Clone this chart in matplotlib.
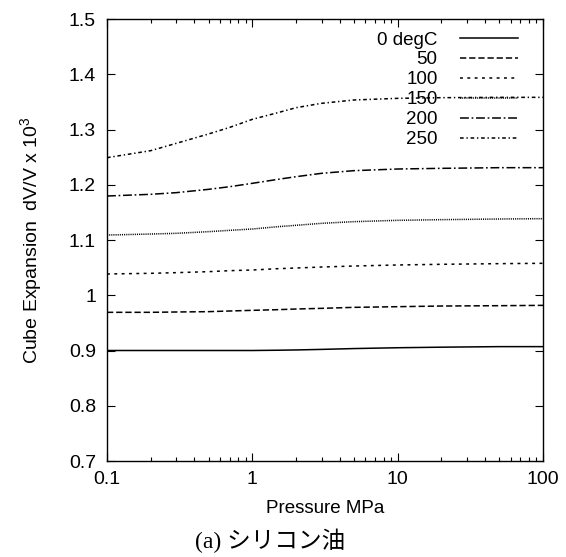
import numpy as np
import matplotlib
matplotlib.use('Agg')
import matplotlib.pyplot as plt
from matplotlib.ticker import FuncFormatter, FixedLocator, LogLocator, NullFormatter

plt.rcParams['font.family'] = ['Liberation Sans', 'DejaVu Sans']
plt.rcParams['mathtext.fontset'] = 'custom'
plt.rcParams['mathtext.rm'] = 'Liberation Sans'
plt.rcParams['mathtext.default'] = 'rm'

# pressure (MPa) and cube expansion dV/V x 10^3
pressure = [0.1, 0.2, 0.3, 0.5, 0.7, 1, 1.5, 2, 3, 5, 10, 20, 50, 100]
exp_0 = [0.900, 0.900, 0.900, 0.900, 0.900, 0.900, 0.9005, 0.901, 0.902, 0.9035, 0.905, 0.906, 0.907, 0.907]
exp_50 = [0.9691, 0.9691, 0.9697, 0.9703, 0.9715, 0.9727, 0.9739, 0.9751, 0.9763, 0.9781, 0.9793, 0.9805, 0.9811, 0.9817]
exp_100 = [1.0385, 1.0397, 1.0409, 1.0427, 1.0445, 1.0457, 1.0481, 1.0493, 1.0511, 1.0529, 1.0548, 1.0560, 1.0572, 1.0578]
exp_150 = [1.1090, 1.1108, 1.1121, 1.1151, 1.1175, 1.1199, 1.1241, 1.1266, 1.1302, 1.1332, 1.1356, 1.1368, 1.1380, 1.1386]
exp_200 = [1.1796, 1.1827, 1.1857, 1.1917, 1.1965, 1.2026, 1.2098, 1.2146, 1.2207, 1.2255, 1.2285, 1.2297, 1.2309, 1.2309]
exp_250 = [1.2490, 1.2617, 1.2750, 1.2919, 1.3039, 1.3184, 1.3305, 1.3395, 1.3474, 1.3534, 1.3564, 1.3576, 1.3582, 1.3582]

labels = ['0 degC', '50', '100', '150', '200', '250']
series = [exp_0, exp_50, exp_100, exp_150, exp_200, exp_250]
dashes = [None, (4.1, 1.9), (1.9, 2.9), (0.7, 0.7), (5.8, 1.8, 1.1, 1.8), (2.4, 1.8, 0.9, 1.8)]

fig = plt.figure(figsize=(5.66, 5.57), dpi=100)
ax = fig.add_axes([107/566, 1-461/557, 436/566, 442/557])

for lab, ys, d in zip(labels, series, dashes):
    line, = ax.plot(pressure, ys, color='black', lw=1.1, label=lab)
    if d is not None:
        line.set_dashes(d)

ax.set_xscale('log')
ax.set_xlim(0.1, 100)
ax.set_ylim(0.7, 1.5)
ax.xaxis.set_major_locator(FixedLocator([0.1, 1, 10, 100]))
ax.xaxis.set_major_formatter(FuncFormatter(lambda v, p: '%g' % v))
ax.xaxis.set_minor_locator(LogLocator(base=10, subs=np.arange(2, 10)))
ax.xaxis.set_minor_formatter(NullFormatter())
ax.set_yticks(np.arange(0.7, 1.51, 0.1))
ax.yaxis.set_major_formatter(FuncFormatter(lambda v, p: '%g' % round(v, 1)))

ax.tick_params(which='both', direction='in', top=True, right=True, width=0.8, labelsize=14)
ax.tick_params(which='major', length=6)
ax.tick_params(which='minor', length=3)
ax.tick_params(axis='y', pad=8)
ax.tick_params(axis='x', pad=7)
for s in ax.spines.values():
    s.set_linewidth(1.0)

ax.set_xlabel('Pressure MPa', fontsize=13.5, labelpad=9)
ax.set_ylabel('Cube Expansion  dV/V x 10$^3$', fontsize=14, labelpad=18)

leg = ax.legend(loc='upper right', bbox_to_anchor=(0.943, 0.972), frameon=False,
                markerfirst=False, fontsize=13.5, handlelength=3.1, handletextpad=1.2,
                labelspacing=0.15, borderpad=0, borderaxespad=0)

fig.text(270/566, 1-541/557, '(a) シリコン油', ha='center', va='center', fontsize=17,
         family=['Liberation Serif', 'Noto Sans CJK JP'])

fig.savefig('out.png', dpi=100)
